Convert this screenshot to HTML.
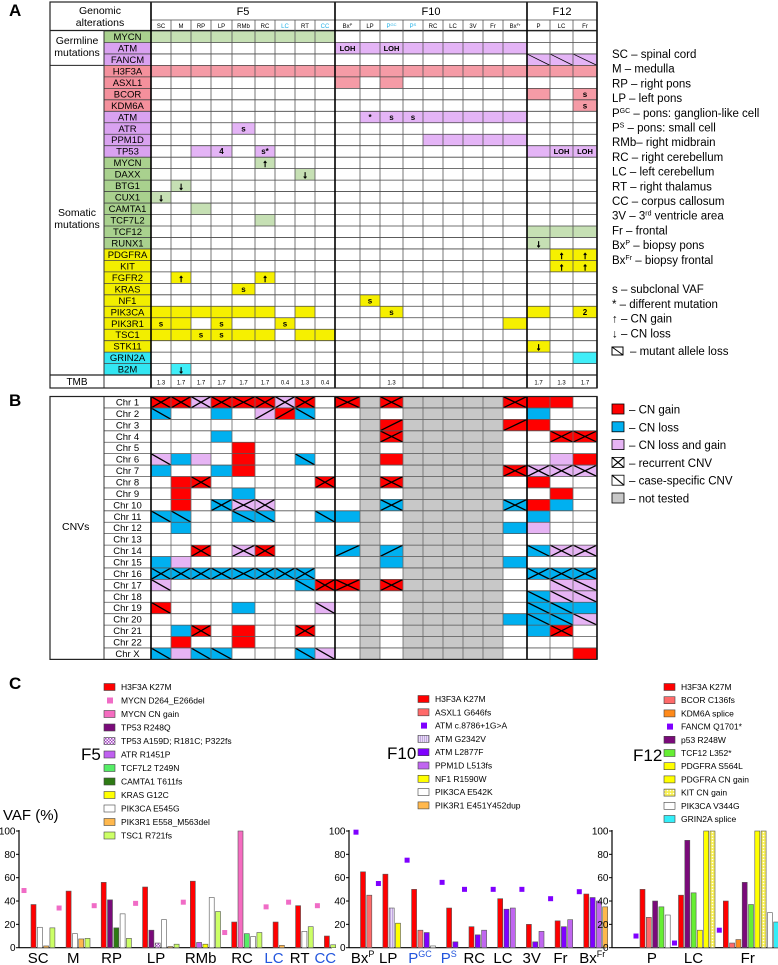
<!DOCTYPE html>
<html><head><meta charset="utf-8">
<style>
html,body{margin:0;padding:0;background:#fff;}
svg{display:block;font-family:"Liberation Sans",Arial,sans-serif;}
</style></head>
<body>
<svg id="fig" width="778" height="965" viewBox="0 0 778 965" xmlns="http://www.w3.org/2000/svg">
<defs>
<pattern id="pDot" width="3" height="3" patternUnits="userSpaceOnUse"><rect width="3" height="3" fill="#fff"/><rect width="1.5" height="1.5" fill="#a040c0"/><rect x="1.5" y="1.5" width="1.5" height="1.5" fill="#a040c0"/></pattern>
<pattern id="pHatch" width="2" height="3" patternUnits="userSpaceOnUse"><rect width="2" height="3" fill="#e8dcf5"/><rect width="0.8" height="3" fill="#b79ad8"/></pattern>
<pattern id="pKit" width="3" height="3" patternUnits="userSpaceOnUse"><rect width="3" height="3" fill="#f6ee50"/><circle cx="1.5" cy="1.5" r="0.8" fill="#fff"/></pattern>
</defs>
<text x="9" y="16" font-size="17" font-weight="bold">A</text>
<text x="9" y="406" font-size="17" font-weight="bold">B</text>
<text x="9" y="689" font-size="17" font-weight="bold">C</text>
</svg>
<script>
const NS='http://www.w3.org/2000/svg';
const svg=document.getElementById('fig');
function mk(tag,attrs,parent){const e=document.createElementNS(NS,tag);for(const k in attrs)e.setAttribute(k,attrs[k]);(parent||svg).appendChild(e);return e;}
function tx(x,y,s,size,anchor,fill,weight){const e=mk('text',{x:x,y:y,'font-size':size,'text-anchor':anchor||'start',fill:fill||'#000'});if(weight)e.setAttribute('font-weight',weight);e.innerHTML=s;return e;}

/* ---------------- PANEL A ---------------- */
const colX=[151,171,191,211,232,255,275,295,315,335,360,380,403,423,443,463,483,503,527,550,573,597];
const colHead=['SC','M','RP','LP','RMb','RC','LC','RT','CC','Bx<tspan font-size="4" dy="-2">P</tspan>','LP','P<tspan font-size="4" dy="-2">GC</tspan>','P<tspan font-size="4" dy="-2">S</tspan>','RC','LC','3V','Fr','Bx<tspan font-size="4" dy="-2">Fr</tspan>','P','LC','Fr'];
const cyanCols=[6,8,11,12];
const fillA={g:'#c6e0b4',p:'#e4b4f6',r:'#f59ba6',y:'#f6f000',c:'#40eef8'};
const labA={g:'#a9d18e',p:'#d9a2f0',r:'#f4909c',y:'#f2ee00',c:'#33e6f2'};
const genes=['MYCN','ATM','FANCM','H3F3A','ASXL1','BCOR','KDM6A','ATM','ATR','PPM1D','TP53','MYCN','DAXX','BTG1','CUX1','CAMTA1','TCF7L2','TCF12','RUNX1','PDGFRA','KIT','FGFR2','KRAS','NF1','PIK3CA','PIK3R1','TSC1','STK11','GRIN2A','B2M'];
const geneCol=['g','p','p','r','r','r','r','p','p','p','p','g','g','g','g','g','g','g','g','y','y','y','y','y','y','y','y','y','c','c'];
const aCells=[
'g g g g g g g g g . . . . . . . . . . . .',
'. . . . . . . . . p:LOH p p:LOH p p p p p p . . .',
'. . . . . . . . . . . . . . . . . . pd pd pd',
'r r r r r r r r r r r r r r r r r r r r r',
'. . . . . . . . . r . r . . . . . . . . .',
'. . . . . . . . . . . . . . . . . . r . r:s',
'. . . . . . . . . . . . . . . . . . . . r:s',
'. . . . . . . . . . p:* p:s p:s p p p p p . . .',
'. . . . p:s . . . . . . . . . . . . . . . .',
'. . . . . . . . . . . . . p p p p p . . .',
'. . p p:4 . p:s* . . . . . . . . . . . . p p:LOH p:LOH',
'. . . . . g:↑ . . . . . . . . . . . . . . .',
'. . . . . . . g:↓ . . . . . . . . . . . . .',
'. g:↓ . . . . . . . . . . . . . . . . . . .',
'g:↓ . . . . . . . . . . . . . . . . . . . .',
'. . g . . . . . . . . . . . . . . . . . .',
'. . . . . g . . . . . . . . . . . . . . .',
'. . . . . . . . . . . . . . . . . . g g g',
'. . . . . . . . . . . . . . . . . . g:↓ . .',
'. . . . . . . . . . . . . . . . . . . y:↑ y:↑',
'. . . . . . . . . . . . . . . . . . . y:↑ y:↑',
'. y:↑ . . . y:↑ . . . . . . . . . . . . . .',
'. . . . y:s . . . . . . . . . . . . . . . .',
'. . . . . . . . . . y:s . . . . . . . . . .',
'y y y y y y . y . . . y:s . . . . . . y . y:2',
'y:s y . y:s . . y:s . . . . . . . . . . y . . .',
'y y y:s y:s y y . y y . . . . . . . . . . . .',
'. . . . . . . . . . . . . . . . . . y:↓ . .',
'. . . . . . . . . . . . . . . . . . . . c',
'. c:↓ . . . . . . . . . . . . . . . . . . .'
];
const tmb=['1.3','1.7','1.7','1.7','1.7','1.7','0.4','1.3','0.4','','','1.3','','','','','','','1.7','1.3','1.7'];
const rowY0=31,rowH=11.47,nR=30;
const ry=i=>rowY0+i*rowH;
const gA=mk('g',{});


for(let i=0;i<nR;i++){
  const lab=mk('rect',{x:104,y:ry(i),width:47,height:rowH,fill:labA[geneCol[i]]},gA);
  
  
  const gt=tx(127.5,ry(i)+9,genes[i],9.5,'middle');
  
  
  let toks=aCells[i].split(' ');
  for(let j=0;j<21&&j<toks.length;j++){
    const t=toks[j];const c=t.split(':')[0];const s=t.split(':')[1];
    if(c==='.')continue;
    const col=c[0];
    const r=mk('rect',{x:colX[j],y:ry(i),width:colX[j+1]-colX[j],height:rowH,fill:fillA[col]},gA);
    
    
    if(c[1]==='d'){const l=mk('line',{x1:colX[j],y1:ry(i),x2:colX[j+1],y2:ry(i)+rowH,stroke:'#000','stroke-width':0.8},gA);
      
      }
    if(s){const isArrow=(s==='↑'||s==='↓');
      const ct=tx((colX[j]+colX[j+1])/2,ry(i)+(isArrow?9.5:8.5),s,isArrow?10:(s.length>2?7.5:8),'middle','#000','bold');
      if(isArrow){ct.setAttribute('stroke','#000');ct.setAttribute('stroke-width','0.7');}
      
      }
  }
}
for(let j=0;j<21;j++){ if(!tmb[j])continue;
  const t=tx((colX[j]+colX[j+1])/2,384.5,tmb[j],6,'middle');
  
  }
function ln(x1,y1,x2,y2,w,c,parent){return mk('line',{x1:x1,y1:y1,x2:x2,y2:y2,stroke:c||'#444','stroke-width':w||0.8},parent);}
const thick=[151,335,527,597];
for(let i=0;i<=nR;i++){ln(104,ry(i),597,ry(i),0.8,'#444',gA);}
ln(151,20,597,20,0.8,'#444',gA);
ln(50,30.5,597,30.5,1.2,'#222',gA);
ln(50,ry(3),104,ry(3),1,'#222',gA);
ln(50,375,597,375,1.2,'#222',gA);
for(let j=0;j<colX.length;j++){const x=colX[j];const isT=thick.includes(x);
  ln(x,isT?2:20,x,388,isT?1.6:0.8,isT?'#000':'#555',gA);}
ln(104,30.5,104,388,1,'#333',gA);
const boxA=mk('rect',{x:50,y:2,width:547,height:386,fill:'none',stroke:'#222','stroke-width':1.2},gA);


[['Genomic',100,14],['alterations',100,26]].forEach(a=>{const t=tx(a[1],a[2],a[0],10.5,'middle');});
[['F5',243],['F10',431],['F12',562]].forEach(a=>{const t=tx(a[1],15,a[0],11,'middle');});
for(let j=0;j<21;j++){const t=tx((colX[j]+colX[j+1])/2,28,colHead[j],6,'middle',cyanCols.includes(j)?'#22b0e6':'#000');
  
  }
[['Germline',77,44],['mutations',77,56],['Somatic',77,216],['mutations',77,228],['TMB',77,385]].forEach(a=>{const t=tx(a[1],a[2],a[0],a[0]==='TMB'?10:10.5,'middle');});

const legA=['SC – spinal cord','M – medulla','RP – right pons','LP – left pons','P<tspan font-size="7" dy="-4">GC</tspan><tspan dy="4"> – pons: ganglion-like cell</tspan>','P<tspan font-size="7" dy="-4">S</tspan><tspan dy="4"> – pons: small cell</tspan>','RMb– right midbrain','RC – right cerebellum','LC – left cerebellum','RT – right thalamus','CC – corpus callosum','3V – 3<tspan font-size="7" dy="-4">rd</tspan><tspan dy="4"> ventricle area</tspan>','Fr – frontal','Bx<tspan font-size="7" dy="-4">P</tspan><tspan dy="4"> – biopsy pons</tspan>','Bx<tspan font-size="7" dy="-4">Fr</tspan><tspan dy="4"> – biopsy frontal</tspan>'];
legA.forEach((s,i)=>{const t=tx(612,58+i*14.7,s,11.5);});
['s – subclonal VAF','* – different mutation','↑ – CN gain','↓ – CN loss'].forEach((s,i)=>{const t=tx(612,293+i*14.8,s,11.5);});
const mal=mk('rect',{x:612,y:347,width:11,height:8,fill:'#fff',stroke:'#000','stroke-width':1});


ln(612,347,623,355,1,'#000');
const malt=tx(630,355,'– mutant allele loss',11.5);



/* ---------------- PANEL B ---------------- */
const chrNames=['Chr 1','Chr 2','Chr 3','Chr 4','Chr 5','Chr 6','Chr 7','Chr 8','Chr 9','Chr 10','Chr 11','Chr 12','Chr 13','Chr 14','Chr 15','Chr 16','Chr 17','Chr 18','Chr 19','Chr 20','Chr 21','Chr 22','Chr X'];
const cnvF5=[
'Rx Rx Px Rx Rx Rx Px Rx .','Bd . . B . Pu Ru Bd .','. . . . . . . . .','. . . B . . . . .','. . . . R . . . .',
'Pd B P . R . . Bd .','B . . B R . . . .','. R Rx . . . . . Rx','. R . . B . . . .','. R . Bx Px Px . . .',
'Bd Bd . . Bd Bd . . Bd','. B . . . . . . .','. . . . . . . . .','. . Rx . Px Rx . . .','B P . . . . . . .',
'Bx Bx Bx Bx Bx Bx Bx Bx .','Pd . . . . . . Bd Rx','. . . . . . . . .','Rd . . . B . . . Pd','. . . . . . . . .',
'. B Rx . R . . Rx .','. R . . R . . . .','Bd P Bd Bd . . . Bd Pd'];
const cnvF10=[
'Rx G Rx G G G G G Rx','. G . G G G G G .','. G Ru G G G G G Ru','. G Rx G G G G G .','. G . G G G G G .',
'. G R G G G G G .','. G . G G G G G Rx','. G Rx G G G G G .','. G . G G G G G .','. G Bx G G G G G Bx',
'B G . G G G G G .','. G . G G G G G B','. G . G G G G G .','Bu G Bu G G G G G .','. G B G G G G G B',
'. G . G G G G G .','Rx G Rx G G G G G .','. G . G G G G G .','. G . G G G G G .','. G . G G G G G B',
'. G . G G G G G .','. G . G G G G G .','. G . G G G G G .'];
const cnvF12=['R R .','B . .','R . .','. Rx Rx','. . .','. P R','Px Px Px','R . .','. R .','R B .','B . .','P . .','. . .','Bd Px Px','. . .','Bx Bx Bx','. Pd Pd','Bd Pd Pd','Bd Bd B','Bd Bd Pd','B Rx .','. . .','. . R'];
const fillB={R:'#ff0000',B:'#00b0f0',P:'#e6b4f4',G:'#c8c8c8'};
const bY0=396.5,bH=11.43;
const gB=mk('g',{});


for(let i=0;i<23;i++){
  const y=bY0+i*bH;
  const toks=(cnvF5[i]+' '+cnvF10[i]+' '+cnvF12[i]).split(' ');
  const ct=tx(127.5,y+9,chrNames[i],9.5,'middle');
  
  
  toks.forEach((t,j)=>{
    if(t==='.')return;
    const x0=colX[j],x1=colX[j+1];
    const r=mk('rect',{x:x0,y:y,width:x1-x0,height:bH,fill:fillB[t[0]]},gB);
    
    
    const m=t[1];
    if(m==='x'||m==='d'){const l=ln(x0,y,x1,y+bH,1.3,'#000',gB);}
    if(m==='x'||m==='u'){const l=ln(x0,y+bH,x1,y,1.3,'#000',gB);}
  });
}
for(let i=0;i<=23;i++)ln(104,bY0+i*bH,597,bY0+i*bH,0.8,'#555',gB);
for(let j=0;j<colX.length;j++){const x=colX[j];const isT=thick.includes(x);ln(x,bY0,x,bY0+23*bH,isT?1.6:0.8,isT?'#000':'#666',gB);}
ln(104,bY0,104,bY0+23*bH,1,'#333',gB);
const boxB=mk('rect',{x:50,y:bY0,width:547,height:23*bH,fill:'none',stroke:'#222','stroke-width':1.2},gB);


const cnvl=tx(62,530,'CNVs',10.5);


const legB=[['R','','– CN gain'],['B','','– CN loss'],['P','','– CN loss and gain'],['W','x','– recurrent CNV'],['W','d','– case-specific CNV'],['G','','– not tested']];
legB.forEach((a,i)=>{const y=404+i*17.8;
  const r=mk('rect',{x:612,y:y,width:12,height:10,fill:a[0]==='W'?'#fff':fillB[a[0]],stroke:'#000','stroke-width':0.8});
  
  
  if(a[1]){ln(612,y,624,y+10,1.2,'#000');if(a[1]==='x')ln(612,y+10,624,y,1.2,'#000');}
  const t=tx(629,y+9.5,a[2],11.5);
  
  });

/* ---------------- PANEL C ---------------- */
const f5Cats=['SC','M','RP','LP','RMb','RC','LC','RT','CC'];
const f5Marker=[49,34,36,38,39,13,35,39,36];
const f5H3F3A=[37,48.5,56,52,57,22,22,36,10];
const f5MYCNgain=[null,null,null,null,null,100,null,null,null];
const f5TP53R248Q=[null,null,41,15,null,null,null,null,null];
const f5TP53multi=[null,null,null,4,null,null,null,null,null];
const f5ATR=[null,null,null,null,4.5,null,null,null,null];
const f5TCF7L2=[null,null,null,null,null,12,null,null,null];
const f5CAMTA1=[null,null,17,null,null,null,null,null,null];
const f5KRAS=[null,null,null,null,3,null,null,null,null];
const f5PIK3CA=[17.5,12,29,24,43,9.5,null,14,null];
const f5PIK3R1=[1.5,7.5,null,1,null,null,2,null,null];
const f5TSC1=[17,8,8,3,31,13,null,18,2.5];

const f10Cats=['Bx<tspan font-size="9" dy="-6">P</tspan>','LP','P<tspan font-size="9" dy="-6">GC</tspan>','P<tspan font-size="9" dy="-6">S</tspan>','RC','LC','3V','Fr','Bx<tspan font-size="9" dy="-6">Fr</tspan>'];
const f10Marker=[99,55,75,56,50,50,50,42,48];
const f10H3F3A=[65,63,50,34,18,42,20,23,46];
const f10ASXL1=[45,null,15,null,null,null,null,null,null];
const f10ATMG2342V=[null,34,null,null,null,null,null,null,null];
const f10ATML2877F=[null,null,13,5,11,33,5,18,43];
const f10PPM1D=[null,null,null,null,15,34,14,24,40];
const f10NF1=[null,21,null,null,null,null,null,null,null];
const f10PIK3CA=[null,null,1.5,null,null,null,null,null,null];
const f10PIK3R1=[null,null,null,null,null,null,null,null,35];

const f12Cats=['P','LC','Fr'];
const f12Marker=[10,4,15];
const f12H3F3A=[50,45,40];
const f12BCOR=[26,null,4];
const f12KDM6A=[null,null,7];
const f12p53=[40,92,56];
const f12TCF12=[35,47,37];
const f12PDGFRAmut=[null,15,null];
const f12PDGFRAcn=[null,100,100];
const f12KIT=[null,100,100];
const f12PIK3CA=[28,null,30];
const f12GRIN2A=[null,null,22];

const charts=[
 {id:'f5',cats:f5Cats,blue:[6,8],marker:f5Marker,markerColor:'#f06cc6',axisX:19,axisEnd:332,start:24,off:7,pad:2.9,
  series:[['H3F3A K27M','#ff0000',f5H3F3A],['MYCN CN gain','#f56cc0',f5MYCNgain],['TP53 R248Q','#7a0a7a',f5TP53R248Q],['TP53 A159D; R181C; P322fs','url(#pDot)',f5TP53multi],['ATR R1451P','#c060f0',f5ATR],['TCF7L2 T249N','#55ee66',f5TCF7L2],['CAMTA1 T611fs','#2e7a14',f5CAMTA1],['KRAS G12C','#ffff00',f5KRAS],['PIK3CA E545G','#ffffff',f5PIK3CA],['PIK3R1 E558_M563del','#ffb84d',f5PIK3R1],['TSC1 R721fs','#ccff66',f5TSC1]],
  legend:[['H3F3A K27M','#ff0000',0],['MYCN D264_E266del','#f06cc6',1],['MYCN CN gain','#f56cc0',0],['TP53 R248Q','#7a0a7a',0],['TP53 A159D; R181C; P322fs','url(#pDot)',0],['ATR R1451P','#c060f0',0],['TCF7L2 T249N','#55ee66',0],['CAMTA1 T611fs','#2e7a14',0],['KRAS G12C','#ffff00',0],['PIK3CA E545G','#ffffff',0],['PIK3R1 E558_M563del','#ffb84d',0],['TSC1 R721fs','#ccff66',0]],
  legX:104,legY:687,legStep:13.5,title:'F5',titleX:81,titleY:760},
 {id:'f10',cats:f10Cats,blue:[2,3],marker:f10Marker,markerColor:'#7f00ff',axisX:349,axisEnd:606,start:356,off:4.5,pad:5.3,
  series:[['H3F3A K27M','#ff0000',f10H3F3A],['ASXL1 G646fs','#ff6a6a',f10ASXL1],['ATM G2342V','url(#pHatch)',f10ATMG2342V],['ATM L2877F','#7f00ff',f10ATML2877F],['PPM1D L513fs','#c066f0',f10PPM1D],['NF1 R1590W','#ffff00',f10NF1],['PIK3CA E542K','#ffffff',f10PIK3CA],['PIK3R1 E451Y452dup','#ffb84d',f10PIK3R1]],
  legend:[['H3F3A K27M','#ff0000',0],['ASXL1 G646fs','#ff6a6a',0],['ATM c.8786+1G&gt;A','#7f00ff',1],['ATM G2342V','url(#pHatch)',0],['ATM L2877F','#7f00ff',0],['PPM1D L513fs','#c066f0',0],['NF1 R1590W','#ffff00',0],['PIK3CA E542K','#ffffff',0],['PIK3R1 E451Y452dup','#ffb84d',0]],
  legX:418,legY:699,legStep:13.3,title:'F10',titleX:387,titleY:759},
 {id:'f12',cats:f12Cats,blue:[],marker:f12Marker,markerColor:'#7f00ff',axisX:612,axisEnd:778,start:636,off:4,pad:3,
  series:[['H3F3A K27M','#ff0000',f12H3F3A],['BCOR C136fs','#ff6a6a',f12BCOR],['KDM6A splice','#ff8a1a',f12KDM6A],['p53 R248W','#7a0a7a',f12p53],['TCF12 L352*','#66ee33',f12TCF12],['PDGFRA S564L','#ffff00',f12PDGFRAmut],['PDGFRA CN gain','#ffff00',f12PDGFRAcn],['KIT CN gain','url(#pKit)',f12KIT],['PIK3CA V344G','#ffffff',f12PIK3CA],['GRIN2A splice','#33eef8',f12GRIN2A]],
  legend:[['H3F3A K27M','#ff0000',0],['BCOR C136fs','#ff6a6a',0],['KDM6A splice','#ff8a1a',0],['FANCM Q1701*','#7f00ff',1],['p53 R248W','#7a0a7a',0],['TCF12 L352*','#66ee33',0],['PDGFRA S564L','#ffff00',0],['PDGFRA CN gain','#ffff00',0],['KIT CN gain','url(#pKit)',0],['PIK3CA V344G','#ffffff',0],['GRIN2A splice','#33eef8',0]],
  legX:664,legY:687,legStep:13.2,title:'F12',titleX:633,titleY:761}
];
const Y0=947.7,PX=1.167,STEP=6.3,BW=5;
const yv=v=>Y0-v*PX;
charts.forEach(ch=>{
  const g=mk('g',{});
  
  
  const tt=tx(ch.titleX,ch.titleY,ch.title,17,'start','#000',null);
  
  
  ch.legend.forEach((l,i)=>{const y=ch.legY+i*ch.legStep;
    let sw;
    if(l[2]){sw=mk('rect',{x:ch.legX+3,y:y-3,width:6,height:6,fill:l[1]},g);}
    else{sw=mk('rect',{x:ch.legX,y:y-3.5,width:11,height:7,fill:l[1],stroke:'#444','stroke-width':0.6},g);}
    
    
    const t=tx(ch.legX+17,y+3,l[0],8.5,'start','#000');
    
    });
  const ax=ln(ch.axisX,yv(100)-1,ch.axisX,Y0,1.2,'#000',g);
  
  
  const xa=ln(ch.axisX,Y0,ch.axisEnd,Y0,1.2,'#000',g);
  
  
  [0,20,40,60,80,100].forEach(v=>{ln(ch.axisX-3,yv(v),ch.axisX,yv(v),1,'#000',g);
    const t=tx(ch.axisX-3.5,yv(v)+3.5,String(v),10,'end');
    
    });
  let s=ch.start;
  ch.cats.forEach((c,i)=>{
    const m=mk('rect',{x:s-2.5,y:yv(ch.marker[i])-2.5,width:5,height:5,fill:ch.markerColor},g);
    
    
    let bx=s+ch.off;
    ch.series.forEach(se=>{const v=se[2][i];if(v===null||v===undefined)return;
      const b=mk('rect',{x:bx,y:yv(v),width:BW,height:v*PX,fill:se[1],stroke:'#555','stroke-width':0.6},g);
      
      
      bx+=STEP;});
    const cx=(s-2.5+bx-1.3)/2;
    const lt=tx(cx,963,c,15,'middle',ch.blue.includes(i)?'#2255dd':'#000');
    
    
    s=bx+ch.pad;
  });
});
const vaf=tx(3,820,'VAF (%)',15);


</script>
</body></html>
